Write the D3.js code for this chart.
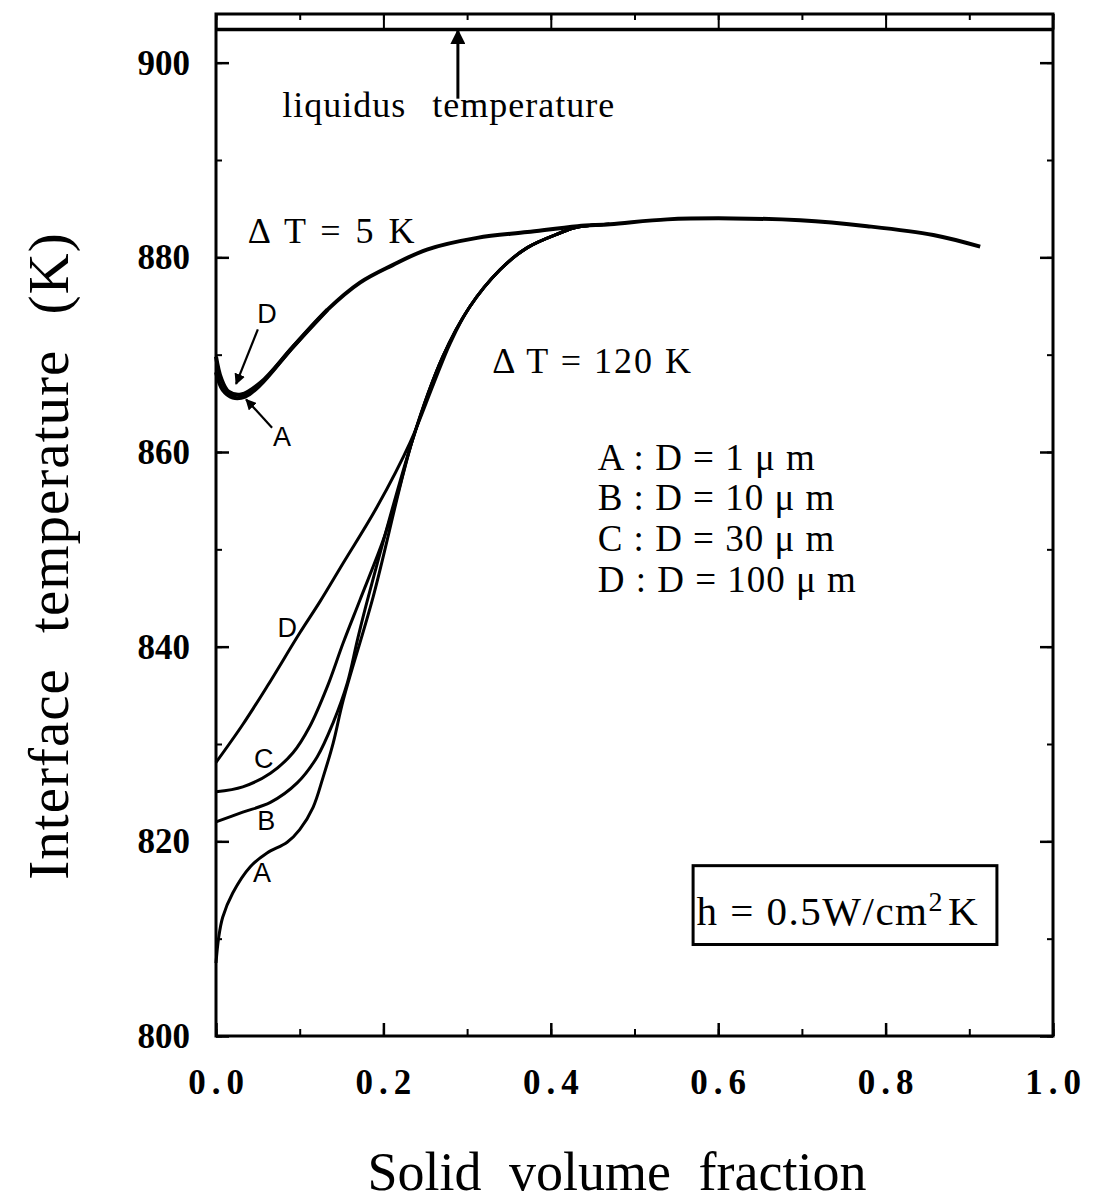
<!DOCTYPE html>
<html>
<head>
<meta charset="utf-8">
<script src="https://cdn.jsdelivr.net/npm/d3@7"></script>
<style>
body { margin: 0; background: #fff; }
text { fill: #000; }
</style>
</head>
<body>
<script>
// curve data: [solid volume fraction, interface temperature K]
var dt5A = [[0, 868.2], [0.008, 866.4], [0.02, 865.6], [0.035, 865.7], [0.053, 866.9], [0.092, 870.8], [0.133, 874.6],
    [0.172, 877.4], [0.211, 879.2], [0.252, 880.8], [0.312, 882.0], [0.372, 882.6], [0.432, 883.2], [0.471, 883.4],
    [0.539, 883.9], [0.618, 884.0], [0.698, 883.8], [0.778, 883.2], [0.857, 882.3], [0.913, 881.1]];
var dt5D = [[0, 869.8], [0.006, 867.6], [0.015, 866.2], [0.03, 865.9], [0.053, 867.1], [0.092, 870.8], [0.133, 874.6]];
var dt120A = [[0, 807.5], [0.003, 810.0], [0.008, 812.2], [0.020, 814.7], [0.041, 817.4], [0.061, 818.8], [0.085, 819.9],
    [0.100, 821.2], [0.116, 823.5], [0.128, 826.6], [0.140, 830.1], [0.152, 834.5], [0.188, 845.2], [0.235, 861.3],
    [0.271, 869.8], [0.303, 874.9], [0.339, 878.7], [0.372, 881.0], [0.411, 882.5], [0.431, 883.1], [0.47, 883.4]];
var dt120B = [[0, 822.0], [0.032, 823.0], [0.065, 824.0], [0.097, 826.0], [0.121, 828.7], [0.140, 832.2], [0.157, 836.3],
    [0.169, 840.7], [0.181, 844.8], [0.235, 861.3], [0.271, 869.8], [0.303, 874.9], [0.339, 878.7], [0.372, 881.0],
    [0.411, 882.5], [0.431, 883.1], [0.47, 883.4]];
var dt120C = [[0, 825.1], [0.032, 825.6], [0.065, 827.0], [0.092, 829.1], [0.112, 831.8], [0.133, 835.9], [0.152, 840.4],
    [0.172, 844.8], [0.200, 851.0], [0.216, 855.4], [0.235, 861.3], [0.271, 869.8], [0.303, 874.9], [0.339, 878.7],
    [0.372, 881.0], [0.411, 882.5], [0.431, 883.1], [0.47, 883.4]];
var dt120D = [[0, 828.1], [0.032, 832.0], [0.061, 835.9], [0.100, 841.4], [0.124, 844.6], [0.152, 848.6], [0.192, 854.3],
    [0.232, 861.0], [0.260, 867.0], [0.280, 871.2], [0.303, 874.9], [0.339, 878.7], [0.372, 881.0], [0.411, 882.5],
    [0.431, 883.1], [0.47, 883.4]];

var liquidus = 903.4;
var xTicks = [0, 0.2, 0.4, 0.6, 0.8, 1.0];
var xTickLabels = ["0.0", "0.2", "0.4", "0.6", "0.8", "1.0"];
var yTicks = [800, 820, 840, 860, 880, 900];
var legendLines = ["A : D = 1 \u03bc m", "B : D = 10 \u03bc m", "C : D = 30 \u03bc m", "D : D = 100 \u03bc m"];

var width = 1097,
    height = 1204,
    plotLeft = 216,
    plotRight = 1053,
    plotTop = 14,
    plotBottom = 1036
;

var svg = d3.select("body").append("svg")
    .attr("width", width)
    .attr("height", height)
;

var x = d3.scaleLinear().domain([0, 1]).range([plotLeft, plotRight]);
var y = d3.scaleLinear().domain([800, 905]).range([plotBottom, plotTop]);

var serif = "'Liberation Serif', 'Times New Roman', serif";
var sans = "'Liberation Sans', Arial, sans-serif";

// axes: ticks point inward on all four sides
svg.append("g")
    .attr("transform", `translate(0,${plotBottom})`)
    .call(d3.axisTop(x).tickValues(d3.range(0, 1.01, 0.1)).tickSize(7).tickFormat(""))
    .call(g => g.selectAll(".tick line").attr("stroke-width", 2))
    .call(g => g.select(".domain").remove())
;
svg.append("g")
    .attr("transform", `translate(0,${plotBottom})`)
    .call(d3.axisTop(x).tickValues(xTicks).tickSize(13).tickFormat(""))
    .call(g => g.selectAll(".tick line").attr("stroke-width", 2.5))
    .call(g => g.select(".domain").remove())
;
svg.append("g")
    .attr("transform", `translate(0,${plotTop})`)
    .call(d3.axisBottom(x).tickValues(d3.range(0, 1.01, 0.1)).tickSize(6).tickFormat(""))
    .call(g => g.selectAll(".tick line").attr("stroke-width", 2))
    .call(g => g.select(".domain").remove())
;
svg.append("g")
    .attr("transform", `translate(0,${plotTop})`)
    .call(d3.axisBottom(x).tickValues(xTicks).tickSize(y(liquidus) - plotTop).tickFormat(""))
    .call(g => g.selectAll(".tick line").attr("stroke-width", 2))
    .call(g => g.select(".domain").remove())
;
[[plotLeft, d3.axisRight], [plotRight, d3.axisLeft]].forEach(function(s) {
    svg.append("g")
        .attr("transform", `translate(${s[0]},0)`)
        .call(s[1](y).tickValues(d3.range(800, 901, 10)).tickSize(6).tickFormat(""))
        .call(g => g.selectAll(".tick line").attr("stroke-width", 2))
        .call(g => g.select(".domain").remove())
    ;
    svg.append("g")
        .attr("transform", `translate(${s[0]},0)`)
        .call(s[1](y).tickValues(yTicks).tickSize(13).tickFormat(""))
        .call(g => g.selectAll(".tick line").attr("stroke-width", 2.5))
        .call(g => g.select(".domain").remove())
    ;
});

svg.append("rect")
    .attr("x", plotLeft)
    .attr("y", plotTop)
    .attr("width", plotRight - plotLeft)
    .attr("height", plotBottom - plotTop)
    .attr("fill", "none")
    .attr("stroke", "#000")
    .attr("stroke-width", 3)
;

// liquidus line
svg.append("line")
    .attr("x1", plotLeft).attr("x2", plotRight)
    .attr("y1", y(liquidus)).attr("y2", y(liquidus))
    .attr("stroke", "#000")
    .attr("stroke-width", 3.5)
;

// tick labels
svg.selectAll(".ylab")
    .data(yTicks)
    .enter().append("text")
    .attr("x", 190)
    .attr("y", d => y(d) + 12)
    .attr("text-anchor", "end")
    .attr("font-family", serif)
    .attr("font-weight", "bold")
    .attr("font-size", 35)
    .text(d => d)
;
svg.selectAll(".xlab")
    .data(xTicks)
    .enter().append("text")
    .attr("x", (d, i) => x(d) + 3)
    .attr("y", 1094)
    .attr("text-anchor", "middle")
    .attr("font-family", serif)
    .attr("font-weight", "bold")
    .attr("font-size", 35)
    .attr("letter-spacing", 6)
    .text((d, i) => xTickLabels[i])
;

// axis titles
svg.append("text")
    .attr("transform", "translate(68,556) rotate(-90)")
    .attr("text-anchor", "middle")
    .attr("font-family", serif)
    .attr("font-size", 57)
    .attr("letter-spacing", 1)
    .attr("word-spacing", 20)
    .text("Interface temperature (K)")
;
svg.append("text")
    .attr("x", 617)
    .attr("y", 1190)
    .attr("text-anchor", "middle")
    .attr("font-family", serif)
    .attr("font-size", 54)
    .attr("word-spacing", 14)
    .text("Solid volume fraction")
;

// curves
var line = d3.line()
    .x(d => x(d[0]))
    .y(d => y(d[1]))
    .curve(d3.curveCatmullRom.alpha(0.5))
;
[dt120A, dt120B, dt120C, dt120D, dt5D, dt5A].forEach(function(c, i) {
    svg.append("path")
        .attr("d", line(c))
        .attr("fill", "none")
        .attr("stroke", "#000")
        .attr("stroke-width", i > 3 ? 4 : 3)
    ;
});

// arrow heads
var defs = svg.append("defs");
defs.append("marker")
    .attr("id", "head")
    .attr("viewBox", "0 0 10 10")
    .attr("refX", 9).attr("refY", 5)
    .attr("markerWidth", 5).attr("markerHeight", 5)
    .attr("orient", "auto")
    .append("path")
    .attr("d", "M0,0 L10,5 L0,10 Z")
    .attr("fill", "#000")
;

function arrow(x1, y1, x2, y2, w) {
    svg.append("line")
        .attr("x1", x(x1)).attr("y1", y(y1))
        .attr("x2", x(x2)).attr("y2", y(y2))
        .attr("stroke", "#000")
        .attr("stroke-width", w)
        .attr("marker-end", "url(#head)")
    ;
}
arrow(0.289, 896.3, 0.289, liquidus - 0.1, 3);
arrow(0.050, 872.6, 0.024, 867.0, 2.2);
arrow(0.067, 862.5, 0.036, 865.4, 2.2);

// annotations
svg.append("text")
    .attr("x", x(0.278))
    .attr("y", y(894.4))
    .attr("text-anchor", "middle")
    .attr("font-family", serif)
    .attr("font-size", 36)
    .attr("letter-spacing", 1)
    .attr("word-spacing", 16)
    .text("liquidus temperature")
;
svg.append("text")
    .attr("x", x(0.038))
    .attr("y", y(881.5))
    .attr("font-family", serif)
    .attr("font-size", 36)
    .attr("letter-spacing", 3)
    .text("\u0394 T = 5 K")
;
svg.append("text")
    .attr("x", x(0.330))
    .attr("y", y(868.1))
    .attr("font-family", serif)
    .attr("font-size", 36)
    .attr("letter-spacing", 2)
    .text("\u0394 T = 120 K")
;
svg.selectAll(".leg")
    .data(legendLines)
    .enter().append("text")
    .attr("x", x(0.456))
    .attr("y", (d, i) => y(858.2) + i * 40.8)
    .attr("font-family", serif)
    .attr("font-size", 37)
    .attr("letter-spacing", 1)
    .text(d => d)
;

var curveLabels = [["D", 0.061, 874.3], ["A", 0.079, 861.6], ["D", 0.085, 842.0], ["C", 0.057, 828.6],
    ["B", 0.060, 822.2], ["A", 0.055, 816.8]];
svg.selectAll(".clab")
    .data(curveLabels)
    .enter().append("text")
    .attr("x", d => x(d[1]))
    .attr("y", d => y(d[2]) + 10)
    .attr("text-anchor", "middle")
    .attr("font-family", sans)
    .attr("font-size", 27)
    .text(d => d[0])
;

// heat transfer coefficient box
svg.append("rect")
    .attr("x", x(0.570))
    .attr("y", y(817.5))
    .attr("width", x(0.933) - x(0.570))
    .attr("height", y(809.4) - y(817.5))
    .attr("fill", "none")
    .attr("stroke", "#000")
    .attr("stroke-width", 3)
;
var h = svg.append("text")
    .attr("x", x(0.574))
    .attr("y", 925)
    .attr("font-family", serif)
    .attr("font-size", 41)
    .attr("letter-spacing", 1.5)
;
h.append("tspan").text("h  = 0.5W/cm");
h.append("tspan").attr("dy", -14).attr("font-size", 28).text("2");
h.append("tspan").attr("dy", 14).attr("dx", 4).text("K");
</script>
</body>
</html>
